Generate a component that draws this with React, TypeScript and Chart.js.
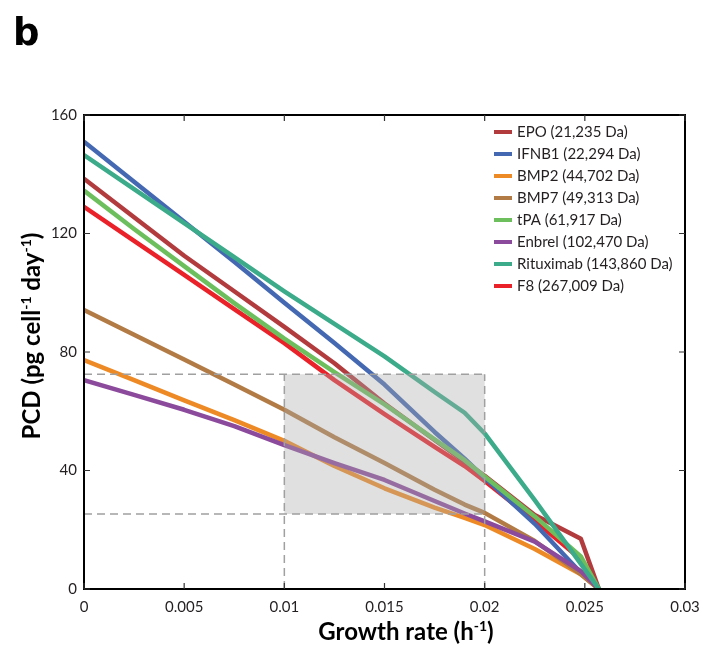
import React, { useEffect, useRef } from "react";
import { Chart, registerables } from "chart.js";

Chart.register(...registerables);

const growthRate = [0, 0.0025, 0.005, 0.0075, 0.01, 0.0125, 0.015, 0.0175, 0.019, 0.02, 0.0225, 0.0248, 0.0257];

const epo = [138.5, 125.5, 112.5, 100.5, 88.5, 76.2, 62.6, 50.3, 43, 38.2, 25, 17, 0];
const ifnb1 = [151, 137.5, 124, 110.5, 96.6, 83, 69, 53, 44, 37.5, 22, 5.5, 0];
const bmp2 = [77.3, 70.5, 63.7, 57, 50, 41.5, 34, 27.5, 24, 21.6, 13.5, 5, 0];
const bmp7 = [94.2, 85.8, 77.5, 69, 60.5, 51.2, 42.5, 33.5, 28.5, 25.7, 16.2, 5, 0];
const tpa = [134.5, 121.5, 109, 96.5, 84.5, 73.2, 62.3, 50.5, 43.5, 38, 24.5, 11, 0];
const enbrel = [70.5, 65.5, 60.5, 55, 48.6, 42.5, 36.8, 29.7, 25.5, 22.8, 16, 6, 0];
const rituximab = [146.5, 135, 123.5, 112, 100.5, 89.5, 78.5, 66.5, 59.5, 52.5, 30, 8.5, 0];
const f8 = [129, 117.5, 106, 94.5, 83, 70.5, 59, 48, 41.5, 36.5, 23, 10, 0];

const seriesNames = [
  "EPO (21,235 Da)",
  "IFNB1 (22,294 Da)",
  "BMP2 (44,702 Da)",
  "BMP7 (49,313 Da)",
  "tPA (61,917 Da)",
  "Enbrel (102,470 Da)",
  "Rituximab (143,860 Da)",
  "F8 (267,009 Da)",
];
const seriesValues = [epo, ifnb1, bmp2, bmp7, tpa, enbrel, rituximab, f8];
const seriesColors = ["#b23b3e", "#4469b2", "#ee8a25", "#b27b45", "#6cbf5c", "#8c4a9c", "#3bab8a", "#ea2129"];
const drawOrder = [7, 6, 5, 4, 2, 3, 1, 8];

const xTicks = [0, 0.005, 0.01, 0.015, 0.02, 0.025, 0.03];
const xTickLabels = ["0", "0.005", "0.01", "0.015", "0.02", "0.025", "0.03"];
const yTicks = [0, 40, 80, 120, 160];
const yTickLabels = ["0", "40", "80", "120", "160"];

const boxX = [0.01, 0.02];
const boxY = [25.3, 72.5];

const FONT = "Lato, 'Open Sans', sans-serif";
const TEXT = "#231f20";

function drawRich(ctx: CanvasRenderingContext2D, parts: { t: string; sup?: boolean }[], x: number, y: number, size: number) {
  const supSize = Math.round(size * 0.6);
  let total = 0;
  const widths = parts.map((p) => {
    ctx.font = `bold ${p.sup ? supSize : size}px ${FONT}`;
    const w = ctx.measureText(p.t).width;
    total += w;
    return w;
  });
  let cx = x - total / 2;
  ctx.textAlign = "left";
  ctx.textBaseline = "alphabetic";
  parts.forEach((p, i) => {
    ctx.font = `bold ${p.sup ? supSize : size}px ${FONT}`;
    ctx.fillText(p.t, cx, p.sup ? y - size * 0.38 : y);
    cx += widths[i];
  });
}

const decorPlugin = {
  id: "decor",
  afterDatasetsDraw(chart: any) {
    const { ctx, chartArea: a, scales } = chart;
    const xs = scales.x;
    const ys = scales.y;
    const x0 = xs.getPixelForValue(boxX[0]);
    const x1 = xs.getPixelForValue(boxX[1]);
    const yT = ys.getPixelForValue(boxY[1]);
    const yB = ys.getPixelForValue(boxY[0]);
    const yZ = ys.getPixelForValue(0);
    const xZ = xs.getPixelForValue(0);
    ctx.save();
    ctx.fillStyle = "rgba(171,171,171,0.37)";
    ctx.fillRect(x0, yT, x1 - x0, yB - yT);
    ctx.strokeStyle = "#a0a0a0";
    ctx.lineWidth = 1.5;
    ctx.setLineDash([8, 5]);
    ctx.beginPath();
    ctx.moveTo(xZ, yT); ctx.lineTo(x1, yT);
    ctx.moveTo(xZ, yB); ctx.lineTo(x1, yB);
    ctx.moveTo(x0, yZ); ctx.lineTo(x0, yT);
    ctx.moveTo(x1, yZ); ctx.lineTo(x1, yT);
    ctx.stroke();
    ctx.setLineDash([]);
    ctx.strokeStyle = "#000";
    ctx.lineWidth = 2;
    ctx.strokeRect(a.left, a.top, a.right - a.left, a.bottom - a.top);
    ctx.lineWidth = 1.2;
    ctx.strokeStyle = "#333";
    ctx.beginPath();
    xTicks.forEach((v) => {
      const px = xs.getPixelForValue(v);
      ctx.moveTo(px, a.bottom); ctx.lineTo(px, a.bottom - 6);
      ctx.moveTo(px, a.top); ctx.lineTo(px, a.top + 6);
    });
    yTicks.forEach((v) => {
      const py = ys.getPixelForValue(v);
      ctx.moveTo(a.left, py); ctx.lineTo(a.left + 6, py);
      ctx.moveTo(a.right, py); ctx.lineTo(a.right - 6, py);
    });
    ctx.stroke();
    ctx.restore();
  },
  afterDraw(chart: any) {
    const { ctx } = chart;
    ctx.save();
    ctx.fillStyle = "#000";
    ctx.font = `bold 37px 'DejaVu Sans', sans-serif`;
    ctx.textAlign = "left";
    ctx.textBaseline = "alphabetic";
    ctx.fillText("b", 13, 45);
    ctx.fillStyle = "#000";
    drawRich(ctx, [{ t: "Growth rate (h" }, { t: "-1", sup: true }, { t: ")" }], 406, 640, 24);
    ctx.save();
    ctx.translate(40, 336);
    ctx.rotate(-Math.PI / 2);
    drawRich(ctx, [{ t: "PCD (pg cell" }, { t: "-1", sup: true }, { t: " day" }, { t: "-1", sup: true }, { t: ")" }], 0, 0, 24);
    ctx.restore();
    ctx.font = `15px ${FONT}`;
    ctx.textBaseline = "middle";
    ctx.textAlign = "left";
    seriesNames.forEach((name, i) => {
      const y = 132 + i * 22;
      ctx.fillStyle = seriesColors[i];
      ctx.fillRect(494, y - 2, 18, 4);
      ctx.fillStyle = TEXT;
      ctx.fillText(name, 517, y);
    });
    ctx.restore();
  },
};

export default function App() {
  const ref = useRef<HTMLCanvasElement | null>(null);
  useEffect(() => {
    if (!ref.current) return;
    const datasets = seriesNames.map((name, i) => ({
      label: name,
      data: growthRate.map((g, j) => ({ x: g, y: seriesValues[i][j] })),
      borderColor: seriesColors[i],
      backgroundColor: seriesColors[i],
      borderWidth: 4.5,
      pointRadius: 0,
      tension: 0,
      fill: false,
      order: drawOrder[i],
      borderJoinStyle: "round" as const,
    }));
    const chart = new Chart(ref.current, {
      type: "line",
      data: { datasets },
      options: {
        animation: false,
        responsive: false,
        maintainAspectRatio: false,
        layout: { padding: { left: 0, right: 20, top: 115, bottom: 0 } },
        plugins: { legend: { display: false }, tooltip: { enabled: false } },
        scales: {
          x: {
            type: "linear",
            min: 0,
            max: 0.03,
            grid: { display: false, drawTicks: false },
            border: { display: false },
            afterBuildTicks: (s: any) => { s.ticks = xTicks.map((v) => ({ value: v })); },
            afterFit: (s: any) => { s.height = 60; s.paddingLeft = 0; s.paddingRight = 0; },
            ticks: {
              padding: 9,
              color: TEXT,
              font: { family: FONT, size: 15 },
              maxRotation: 0,
              autoSkip: false,
              callback: (_v: any, i: number) => xTickLabels[i],
            },
          },
          y: {
            type: "linear",
            min: 0,
            max: 160,
            grid: { display: false, drawTicks: false },
            border: { display: false },
            afterBuildTicks: (s: any) => { s.ticks = yTicks.map((v) => ({ value: v })); },
            afterFit: (s: any) => { s.width = 84; s.paddingTop = 0; s.paddingBottom = 0; },
            ticks: {
              padding: 7,
              color: TEXT,
              font: { family: FONT, size: 15 },
              autoSkip: false,
              callback: (_v: any, i: number) => yTickLabels[i],
            },
          },
        },
      },
      plugins: [decorPlugin],
    });
    return () => chart.destroy();
  }, []);
  return (
    <div style={{ position: "fixed", left: 0, top: 0, width: 705, height: 649, background: "#fff" }}>
      <canvas ref={ref} width={705} height={649} style={{ width: 705, height: 649 }} />
    </div>
  );
}
